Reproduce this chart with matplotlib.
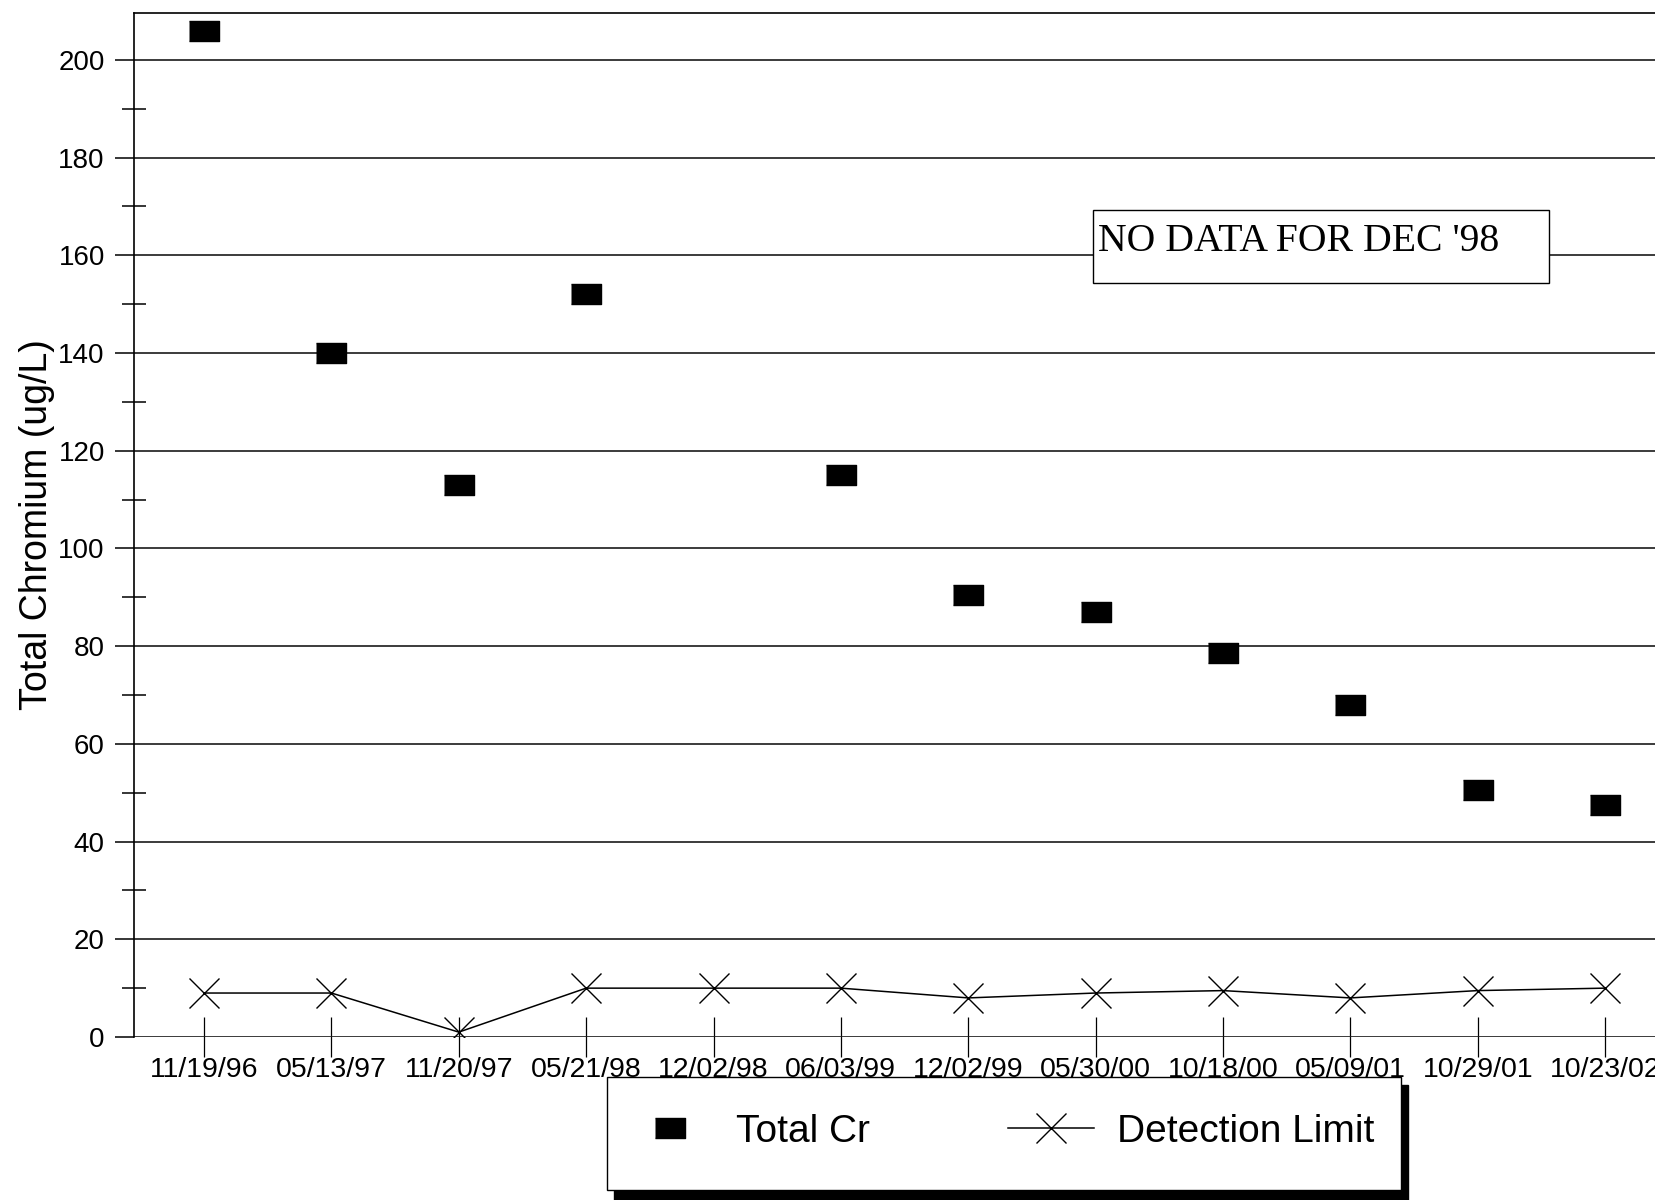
import numpy as np
import matplotlib.pyplot as plt
from matplotlib.patches import Rectangle
from matplotlib.ticker import MultipleLocator

plt.rcParams['font.family'] = ['Liberation Sans', 'DejaVu Sans']

# dados
datas = ['11/19/96', '05/13/97', '11/20/97', '05/21/98', '12/02/98', '06/03/99',
         '12/02/99', '05/30/00', '10/18/00', '05/09/01', '10/29/01', '10/23/02']
total_cr = [206, 140, 113, 152, np.nan, 115, 90.5, 87, 78.5, 68, 50.5, 47.5]
limite_deteccao = [9, 9, 1, 10, 10, 10, 8, 9, 9.5, 8, 9.5, 10]

x = np.arange(len(datas))

fig = plt.figure(figsize=(16.56, 12), dpi=100)
ax = fig.add_axes([134 / 1656, 163 / 1200, 1522 / 1656, 1024 / 1200])

# marcador retangular (mais largo que alto)
quadrado = [(-1, -0.67), (1, -0.67), (1, 0.67), (-1, 0.67)]

ax.plot(x, total_cr, linestyle='none', marker=quadrado, markersize=21.6,
        color='black', label='Total Cr', zorder=4)
ax.plot(x, limite_deteccao, color='black', linewidth=1.1, marker='x',
        markersize=22, markeredgewidth=1.0, label='Detection Limit', zorder=4)

ax.set_xlim(-0.55, 11.40)
ax.set_ylim(0, 209.6)

ax.set_xticks(x)
ax.set_xticklabels(datas, fontsize=20.5)
ax.yaxis.set_major_locator(MultipleLocator(20))
ax.yaxis.set_minor_locator(MultipleLocator(10))
ax.tick_params(axis='y', which='major', direction='out', length=14, width=1.1,
               labelsize=20, pad=7)
ax.tick_params(axis='y', which='minor', direction='inout', length=17, width=1.1)
ax.tick_params(axis='x', which='major', direction='inout', length=29, width=0.9,
               pad=0)

ax.grid(True, axis='y', which='major', color='#1a1a1a', linewidth=1.2)
ax.set_axisbelow(True)

for lado in ['right', 'bottom']:
    ax.spines[lado].set_visible(False)
ax.spines['left'].set_linewidth(1.2)
ax.spines['top'].set_linewidth(1.2)

ax.set_ylabel('Total Chromium (ug/L)', fontsize=27)
ax.yaxis.set_label_coords(-0.052, 0.5)

# caixa de texto
ax.add_patch(Rectangle((6.98, 154.3), 3.58, 15.0, facecolor='white',
                       edgecolor='black', linewidth=1.0, zorder=3))
ax.text(7.02, 166.6, "NO DATA FOR DEC '98", fontsize=28.6, va='top', ha='left',
        family=['Liberation Serif', 'DejaVu Serif'], zorder=5)

# legenda com sombra preta
fig.patches.append(Rectangle((614 / 1656, -0.01), 794 / 1656, 0.0942 + 0.0183 - 0.0067,
                             transform=fig.transFigure, facecolor='black',
                             edgecolor='black', zorder=2))
fig.patches.append(Rectangle((607 / 1656, 0.0083), 794 / 1656, 0.0942,
                             transform=fig.transFigure, facecolor='white',
                             edgecolor='black', linewidth=1.0, zorder=3))
fig.legend(loc='center left', bbox_to_anchor=(627 / 1656, 0.0567), ncol=2,
           frameon=False, fontsize=28, borderpad=0, borderaxespad=0,
           handlelength=2.2, handletextpad=0.6, columnspacing=3.55)

fig.savefig('out.png', dpi=100)
